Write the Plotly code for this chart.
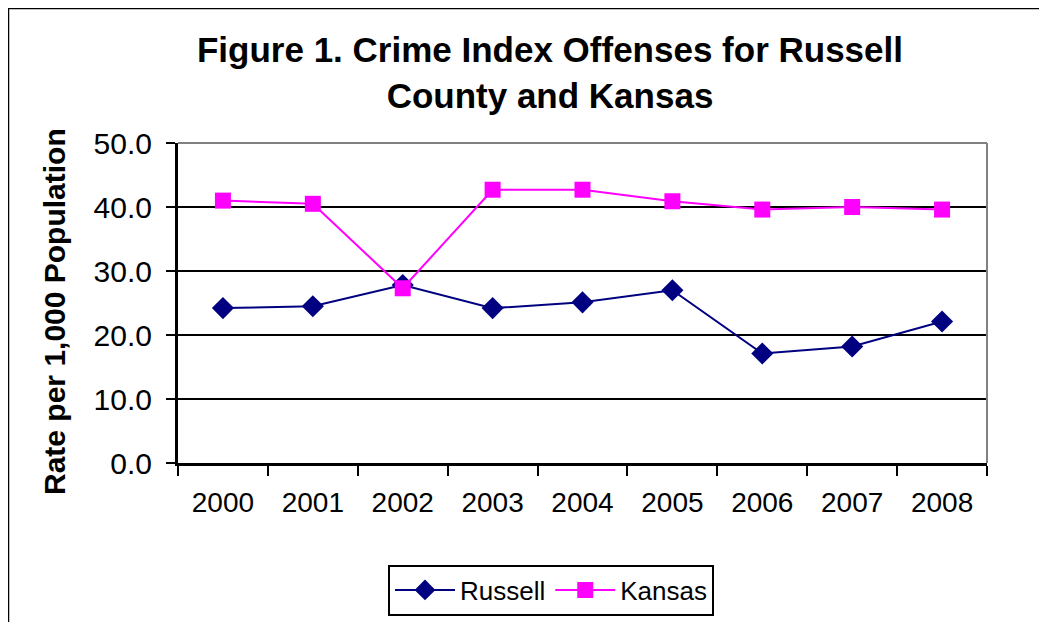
import plotly.graph_objects as go

years = ["2000", "2001", "2002", "2003", "2004", "2005", "2006", "2007", "2008"]
russell = [24.2, 24.5, 27.8, 24.2, 25.1, 27.0, 17.1, 18.2, 22.1]
kansas = [41.0, 40.5, 27.3, 42.7, 42.7, 40.9, 39.6, 40.0, 39.6]
y_ticks = [0, 10, 20, 30, 40, 50]
y_tick_labels = ["0.0", "10.0", "20.0", "30.0", "40.0", "50.0"]

OFF = 8  # page body margin
SW, SH = 1047, 622          # screen size
W, H = SW - OFF, SH - OFF   # figure size
# plot area in screen coordinates
SL, SR, ST, SB = 178, 987, 143, 463
L, T = SL - OFF, ST - OFF
R, B = SW - SR, SH - SB
pw, ph = SR - SL, SB - ST

def px(x):
    return (x - SL) / pw

def py(y):
    return (SB - y) / ph

FONT = "Liberation Sans, Arial, sans-serif"

fig = go.Figure()
fig.add_trace(go.Scatter(
    x=years, y=russell, name="Russell", mode="lines+markers",
    line=dict(color="#000080", width=2),
    marker=dict(symbol="diamond", size=17, color="#000080"),
))
fig.add_trace(go.Scatter(
    x=years, y=kansas, name="Kansas", mode="lines+markers",
    line=dict(color="#FF00FF", width=2),
    marker=dict(symbol="square", size=16, color="#FF00FF"),
))

fig.update_layout(
    width=W, height=H,
    margin=dict(l=L, r=R, t=T, b=B, autoexpand=False),
    paper_bgcolor="white", plot_bgcolor="white",
    font=dict(family=FONT, color="black"),
    title=dict(
        text="<b>Figure 1. Crime Index Offenses for Russell<br>County and Kansas</b>",
        font=dict(size=35, family=FONT, color="black"),
        x=(550 - OFF) / W, xanchor="center", xref="container",
        y=1 - 54 / H, yanchor="middle", yref="container",
    ),
    showlegend=True,
    legend=dict(
        orientation="h", x=px(551), xanchor="center", y=py(590), yanchor="middle",
        xref="paper", yref="paper",
        bordercolor="black", borderwidth=2, bgcolor="white",
        font=dict(size=26, family=FONT, color="black"),
        itemwidth=60, tracegroupgap=0,
    ),
    xaxis=dict(
        type="category", showgrid=False, zeroline=False,
        showline=True, linecolor="black", linewidth=3,
        ticks="outside", tickson="boundaries", ticklen=10, tickwidth=2, tickcolor="black",
        tickfont=dict(size=28, family=FONT, color="black"),
        ticklabelstandoff=12,
        range=[-0.5, 8.5],
    ),
    yaxis=dict(
        range=[0, 50], tickvals=y_ticks, ticktext=y_tick_labels,
        showgrid=True, gridcolor="black", gridwidth=2,
        zeroline=False, showline=True, linecolor="black", linewidth=3,
        ticks="outside", ticklen=9, tickwidth=2, tickcolor="black",
        tickfont=dict(size=30, family=FONT, color="black"),
        ticklabelstandoff=8,
    ),
    annotations=[dict(
        text="<b>Rate per 1,000 Population</b>", textangle=-90,
        x=px(54), y=py(312), xref="paper", yref="paper",
        xanchor="center", yanchor="middle", showarrow=False,
        font=dict(size=30, family=FONT, color="black"),
    )],
    shapes=[
        dict(type="line", xref="paper", yref="paper", x0=0, x1=1, y0=1, y1=1,
             line=dict(color="#808080", width=2), layer="above"),
        dict(type="line", xref="paper", yref="paper", x0=1, x1=1, y0=0, y1=1,
             line=dict(color="#808080", width=2), layer="above"),
        dict(type="rect", xref="paper", yref="paper",
             x0=px(8), x1=px(1200), y0=py(800), y1=py(8),
             line=dict(color="black", width=2.5), layer="below"),
    ],
)

fig.write_html("out.html")
